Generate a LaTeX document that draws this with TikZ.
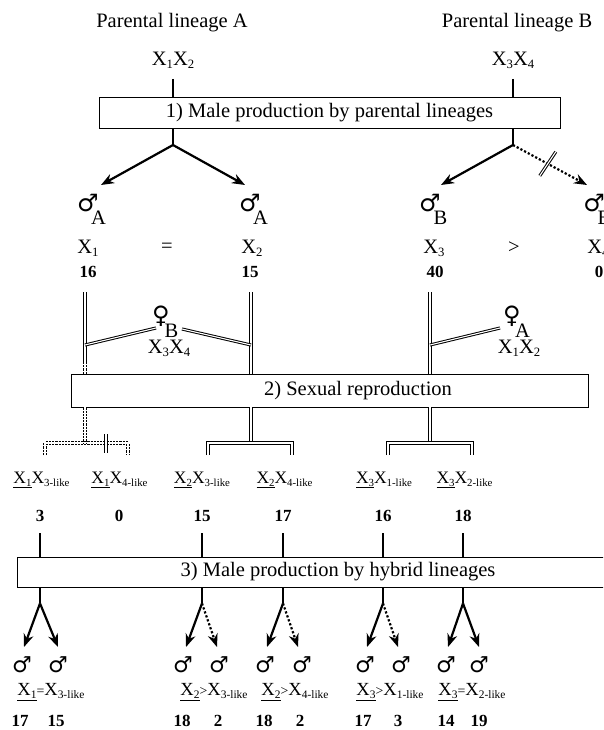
\documentclass[tikz,border=0pt]{standalone}
\usepackage{fontspec}
\setmainfont{Liberation Serif}
\newfontfamily\symfont{DejaVu Sans}
\usepackage{graphicx}
\usepackage{tikz}
\newcommand{\bigsize}{\fontsize{20.5}{24}\selectfont}
\newcommand{\labsize}{\fontsize{17.5}{20}\selectfont}
\newcommand{\relsize}{\fontsize{18.5}{21}\selectfont}
\newcommand{\numsize}{\fontsize{17}{20}\selectfont\bfseries}
\newcommand{\idx}[1]{\raisebox{-0.35ex}{\scalebox{0.62}{#1}}}
\newcommand{\gene}[1]{X\idx{#1}}
\newcommand{\ugene}[1]{\underline{X\idx{#1}}}
\newcommand{\cmp}[1]{\scalebox{0.75}{#1}}
\newcommand{\male}{\char"2642}
\newcommand{\female}{\char"2640}
\usetikzlibrary{arrows.meta,calc,positioning}
\tikzset{
  x=1pt,y=-1pt,
  font=\bigsize,
  stage/.style={draw,line width=0.8pt,shape=rectangle,inner sep=0pt},
  sym/.style={inner sep=0pt,font=\symfont\fontsize{24}{26}\selectfont},
  symh/.style={inner sep=0pt,font=\symfont\fontsize{22}{24}\selectfont},
  subl/.style={anchor=center,inner sep=0pt,xshift=10.5pt,yshift=-15pt,font=\bigsize},
  gen/.style={inner sep=0pt,font=\labsize},
  rel/.style={inner sep=0pt,font=\relsize},
  num/.style={inner sep=0pt,font=\numsize},
  stem/.style={draw,line width=2.4pt},
  line/.style={draw,line width=2.2pt,-{Stealth[length=13pt,width=10pt]}},
  dbl/.style={draw,line width=1pt,double=white,double distance=1.1pt},
  dbldash/.style={dbl,dash pattern=on 2.2pt off 1pt},
}
\begin{document}
\begin{tikzpicture}
    \path [use as bounding box,clip] (0,0) rectangle (603,730);

    % 1) parental lineages
    \node (linA) at (172,23) {Parental lineage A};
    \node (linB) at (517,23) {Parental lineage B};
    \node (genA) at (173,60) {\gene{1}\gene{2}};
    \node (genB) at (513,60) {\gene{3}\gene{4}};
    \node (stage1) [stage,minimum width=461pt,minimum height=31pt] at (329.5,112.5) {1) Male production by parental lineages};

    \coordinate (jA) at (173,145);
    \coordinate (jB) at (513,145);
    \coordinate (tA1) at (101,185);
    \coordinate (tA2) at (245,185);
    \coordinate (tB3) at (441,185);
    \coordinate (tB4) at (587,185);
    \path [stem] (genA) ++(0,19) -- (genA |- stage1.north);
    \path [stem] (genB) ++(0,19) -- (genB |- stage1.north);
    \path [stem] (jA |- stage1.south) -- (jA);
    \path [stem] (jB |- stage1.south) -- (jB);
    \path [line] (jA) -- (tA1);
    \path [line] (jA) -- (tA2);
    \path [line] (jB) -- (tB3);
    \path [line,dotted] (jB) -- (tB4);
    \path [dbl] ($(jB)!0.47!(tB4)+(-8,12)$) -- ($(jB)!0.47!(tB4)+(8,-12)$);

    \node (mA1) [sym,label={[subl]center:A}] at (88,203) {\male};
    \node (mA2) [sym,label={[subl]center:A}] at (250,203) {\male};
    \node (mB3) [sym,label={[subl]center:B}] at (430,203) {\male};
    \node (mB4) [sym,label={[subl]center:B}] at (594,203) {\male};
    \node (xA1) at (88,248) {\gene{1}};
    \node (eqA) at (167,248) {=};
    \node (xA2) at (252,248) {\gene{2}};
    \node (xB3) at (434,248) {\gene{3}};
    \node (gtB) at (514,248) {>};
    \node (xB4) at (598,248) {\gene{4}};
    \node (nA1) [num] at (88,272) {16};
    \node (nA2) [num] at (250,272) {15};
    \node (nB3) [num] at (435,272) {40};
    \node (nB4) [num] at (599,272) {0};

    % 2) sexual reproduction
    \coordinate (pA1) at (85,292);
    \coordinate (pA2) at (251,292);
    \coordinate (pB3) at (430,292);
    \coordinate (kA1) at (85,345);
    \coordinate (kA2) at (251,345);
    \coordinate (kB3) at (430,345);
    \coordinate (cA1) at (85,362);
    \node (stage2) [stage,minimum width=517pt,minimum height=33pt] at (329.5,390.5) {};
    \node (txt2) at (358,391) {2) Sexual reproduction};
    \node (fB) [sym,label={[subl]center:B}] at (161,316) {\female};
    \node (fA) [sym,label={[subl]center:A}] at (512,316) {\female};
    \node (gfB) at (169,348) {\gene{3}\gene{4}};
    \node (gfA) at (519,348) {\gene{1}\gene{2}};

    \path [dbl] (pA1) -- (cA1);
    \path [dbldash] (cA1) -- (pA1 |- stage2.north);
    \path [dbl] (pA2) -- (pA2 |- stage2.north);
    \path [dbl] (pB3) -- (pB3 |- stage2.north);
    \path [dbl] (kA1) -- ($(fB)+(-5,12)$);
    \path [dbl] ($(fB)+(21,13)$) -- (kA2);
    \path [dbl] (kB3) -- ($(fA)+(-12,12)$);

    \coordinate (bA1) at (85,443);
    \coordinate (bA2) at (251,443);
    \coordinate (bB3) at (430,443);
    \coordinate (cut) at (106,443);
    \path [dbldash] (pA1 |- stage2.south) -- (bA1);
    \path [dbldash] (45,455) |- (bA1) -| (128,455);
    \path [dbl] ($(cut)+(0,-9)$) -- ($(cut)+(0,10)$);
    \path [dbl] (pA2 |- stage2.south) -- (bA2);
    \path [dbl] (208,455) |- (bA2) -| (292,455);
    \path [dbl] (pB3 |- stage2.south) -- (bB3);
    \path [dbl] (388,455) |- (bB3) -| (472,455);

    \node (h13) [gen] at (41.5,480) {\ugene{1}\gene{3-like}};
    \node (h14) [gen] at (119.5,480) {\ugene{1}\gene{4-like}};
    \node (h23) [gen] at (202,480) {\ugene{2}\gene{3-like}};
    \node (h24) [gen] at (284.5,480) {\ugene{2}\gene{4-like}};
    \node (h31) [gen] at (384,480) {\ugene{3}\gene{1-like}};
    \node (h32) [gen] at (464.5,480) {\ugene{3}\gene{2-like}};
    \node (nh13) [num] at (40,516) {3};
    \node (nh14) [num] at (119,516) {0};
    \node (nh23) [num] at (202,516) {15};
    \node (nh24) [num] at (283,516) {17};
    \node (nh31) [num] at (383,516) {16};
    \node (nh32) [num] at (463,516) {18};

    % 3) hybrid lineages
    \node (stage3) [stage,minimum width=642pt,minimum height=30pt] at (338,572) {3) Male production by hybrid lineages};
    \path [stem] (nh13) ++(0,17) -- (nh13 |- stage3.north);
    \path [stem] (nh23) ++(0,17) -- (nh23 |- stage3.north);
    \path [stem] (nh24) ++(0,17) -- (nh24 |- stage3.north);
    \path [stem] (nh31) ++(0,17) -- (nh31 |- stage3.north);
    \path [stem] (nh32) ++(0,17) -- (nh32 |- stage3.north);
    \path [stem] (nh13 |- stage3.south) -- ++(0,16) coordinate (j13);
    \path [stem] (nh23 |- stage3.south) -- ++(0,16) coordinate (j23);
    \path [stem] (nh24 |- stage3.south) -- ++(0,16) coordinate (j24);
    \path [stem] (nh31 |- stage3.south) -- ++(0,16) coordinate (j31);
    \path [stem] (nh32 |- stage3.south) -- ++(0,16) coordinate (j32);

    \coordinate (t13a) at (24,647);
    \coordinate (t13b) at (58,647);
    \coordinate (t23a) at (186,647);
    \coordinate (t23b) at (217,647);
    \coordinate (t24a) at (267,647);
    \coordinate (t24b) at (298,647);
    \coordinate (t31a) at (367,647);
    \coordinate (t31b) at (398,647);
    \coordinate (t32a) at (448,647);
    \coordinate (t32b) at (479,647);
    \path [line] (j13) -- (t13a);
    \path [line] (j13) -- (t13b);
    \path [line] (j23) -- (t23a);
    \path [line,dotted] (j23) -- (t23b);
    \path [line] (j24) -- (t24a);
    \path [line,dotted] (j24) -- (t24b);
    \path [line] (j31) -- (t31a);
    \path [line,dotted] (j31) -- (t31b);
    \path [line] (j32) -- (t32a);
    \path [line] (j32) -- (t32b);

    \node (m13a) [symh] at (22,665) {\male};
    \node (m13b) [symh] at (58,665) {\male};
    \node (m23a) [symh] at (183,665) {\male};
    \node (m23b) [symh] at (219,665) {\male};
    \node (m24a) [symh] at (265,665) {\male};
    \node (m24b) [symh] at (302,665) {\male};
    \node (m31a) [symh] at (365,665) {\male};
    \node (m31b) [symh] at (401,665) {\male};
    \node (m32a) [symh] at (446,665) {\male};
    \node (m32b) [symh] at (479,665) {\male};

    \node (r13) [rel] at (51,692) {\ugene{1}\cmp{=}\gene{3-like}};
    \node (r23) [rel] at (214,692) {\ugene{2}\cmp{>}\gene{3-like}};
    \node (r24) [rel] at (295,692) {\ugene{2}\cmp{>}\gene{4-like}};
    \node (r31) [rel] at (390,692) {\ugene{3}\cmp{>}\gene{1-like}};
    \node (r32) [rel] at (472,692) {\ugene{3}\cmp{=}\gene{2-like}};

    \node (n13a) [num] at (20,721) {17};
    \node (n13b) [num] at (56,721) {15};
    \node (n23a) [num] at (182,721) {18};
    \node (n23b) [num] at (218,721) {2};
    \node (n24a) [num] at (264,721) {18};
    \node (n24b) [num] at (300,721) {2};
    \node (n31a) [num] at (363,721) {17};
    \node (n31b) [num] at (398,721) {3};
    \node (n32a) [num] at (446,721) {14};
    \node (n32b) [num] at (479,721) {19};
\end{tikzpicture}
\end{document}
